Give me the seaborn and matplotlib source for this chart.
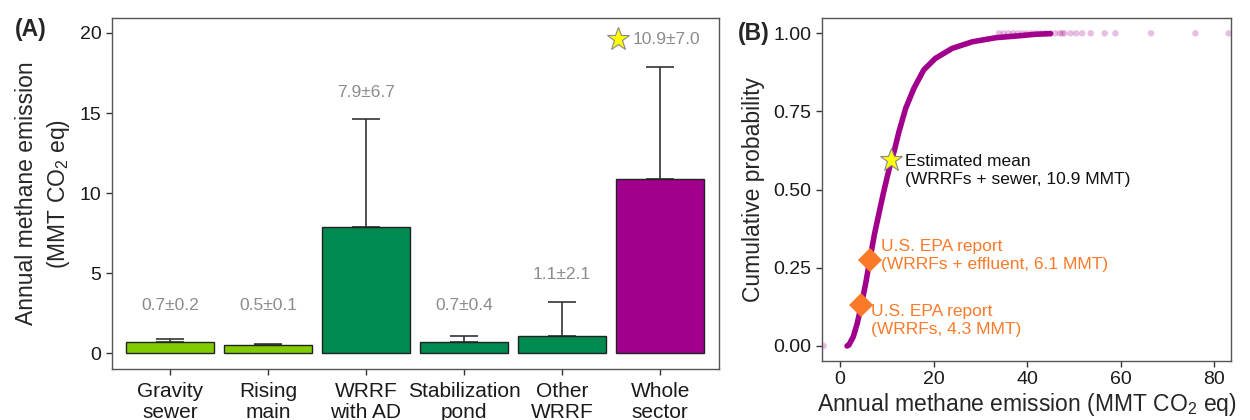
import numpy as np
import pandas as pd
import matplotlib
matplotlib.use("Agg")
import matplotlib.pyplot as plt
import seaborn as sns

# ---- dados do painel A (média ± desvio) ----
categorias = ["Gravity\nsewer", "Rising\nmain", "WRRF\nwith AD",
              "Stabilization\npond", "Other\nWRRF", "Whole\nsector"]
medias = [0.7, 0.5, 7.9, 0.7, 1.1, 10.9]
desvios = [0.2, 0.1, 6.7, 0.4, 2.1, 7.0]
cores_barras = ["#80CC00", "#80CC00", "#008A50", "#008A50", "#008A50", "#A1008C"]

# ---- dados do painel B (curva acumulada) ----
cdf_x = [1.5, 1.9, 2.85, 3.7, 4.56, 5.49, 6.55, 7.4, 8.33, 9.26, 10.1, 10.8,
         11.54, 12.6, 14.04, 15.8, 17.9, 20.4, 24.0, 28.3, 33.3, 38.2, 41.8,
         45.0]
cdf_y = [0.0, 0.003, 0.03, 0.073, 0.131, 0.20, 0.29, 0.36, 0.424, 0.488,
         0.541, 0.584, 0.621, 0.685, 0.760, 0.824, 0.883, 0.92, 0.952, 0.973,
         0.986, 0.992, 0.997, 0.999]
cauda_x = [-3.5, 34, 35, 36, 37, 38, 39, 40, 41, 42, 43, 44, 45, 46, 47,
           47.5, 48, 49.3, 50.5, 51.8, 53.6, 56.6, 58.9, 66.5, 76.0, 83.1]
cauda_y = [0.0] + [1.0] * 25

epa_x = [4.5, 6.4]
epa_y = [0.131, 0.275]
media_x, media_y = 10.9, 0.595

roxo = "#A1008C"
laranja = "#FA7A2A"
cinza_txt = "#8C8C8C"


def main():
    sns.set_theme(style="ticks")
    plt.rcParams["font.family"] = ["Liberation Sans", "DejaVu Sans"]
    plt.rcParams["mathtext.fontset"] = "custom"
    plt.rcParams["mathtext.rm"] = "Liberation Sans"
    plt.rcParams["axes.edgecolor"] = "#555555"
    plt.rcParams["xtick.color"] = "#333333"
    plt.rcParams["ytick.color"] = "#333333"
    plt.rcParams["xtick.labelcolor"] = "#1a1a1a"
    plt.rcParams["ytick.labelcolor"] = "#1a1a1a"

    fig = plt.figure(figsize=(12.5, 4.2), dpi=100)
    ax_a = fig.add_axes([0.0896, 0.1214, 0.4856, 0.8357])
    ax_b = fig.add_axes([0.6576, 0.1405, 0.3272, 0.8166])

    # --- Painel A: barras ---
    df = pd.DataFrame({"cat": categorias, "media": medias, "dp": desvios})
    sns.barplot(data=df, x="cat", y="media", hue="cat", palette=cores_barras,
                saturation=1, legend=False, width=0.9, edgecolor="#222222",
                linewidth=1.0, ax=ax_a, zorder=2)
    pos = np.arange(len(categorias))
    ax_a.errorbar(pos, medias, yerr=[np.zeros(len(desvios)), desvios],
                  fmt="none", ecolor="#333333", elinewidth=1.2, capsize=10.3,
                  capthick=1.2, zorder=1)
    for i, (m, s) in enumerate(zip(medias, desvios)):
        ytxt = max(m + s, 1.3) + 1.7
        rotulo = f"{m:.1f}±{s:.1f}"
        if i == len(medias) - 1:
            ax_a.plot(i - 0.43, ytxt, marker="*", ms=17, color="#FFFF00",
                      mec="#888888", mew=0.8, zorder=3)
            ax_a.text(i - 0.28, ytxt, rotulo, ha="left", va="center",
                      fontsize=12.5, color=cinza_txt)
        else:
            ax_a.text(i, ytxt, rotulo, ha="center", va="center",
                      fontsize=12.5, color=cinza_txt)
    ax_a.set_xlim(-0.59, 5.6)
    ax_a.set_ylim(-0.97, 20.93)
    ax_a.set_yticks([0, 5, 10, 15, 20])
    ax_a.set_xlabel("")
    ax_a.set_ylabel("Annual methane emission\n(MMT CO$_\\mathregular{2}$ eq)",
                    fontsize=16.5, linespacing=1.3, labelpad=6)
    ax_a.tick_params(axis="y", labelsize=14, length=4, width=1)
    ax_a.tick_params(axis="x", labelsize=15, length=4, width=1, pad=5)
    for t in ax_a.get_xticklabels():
        t.set_linespacing(1.15)

    # --- Painel B: curva acumulada ---
    sns.lineplot(x=cdf_x, y=cdf_y, sort=False, color=roxo, linewidth=4.0,
                 solid_capstyle="round", solid_joinstyle="round",
                 ax=ax_b, zorder=2)
    sns.scatterplot(x=cauda_x, y=cauda_y, color=roxo, alpha=0.25, s=22,
                    edgecolor="none", ax=ax_b, zorder=2)
    sns.scatterplot(x=epa_x, y=epa_y, marker="D", s=150, color=laranja,
                    edgecolor="none", ax=ax_b, zorder=3)
    ax_b.plot(media_x, media_y, marker="*", ms=17, color="#FFFF00",
              mec="#888888", mew=0.8, zorder=4)
    ax_b.text(13.8, 0.56, "Estimated mean\n(WRRFs + sewer, 10.9 MMT)",
              ha="left", va="center", fontsize=12.5, color="#111111",
              linespacing=1.25)
    ax_b.text(8.7, 0.288, "U.S. EPA report\n(WRRFs + effluent, 6.1 MMT)",
              ha="left", va="center", fontsize=12.5, color=laranja,
              linespacing=1.25)
    ax_b.text(6.7, 0.08, "U.S. EPA report\n(WRRFs, 4.3 MMT)",
              ha="left", va="center", fontsize=12.5, color=laranja,
              linespacing=1.25)
    ax_b.set_xlim(-3.85, 83.6)
    ax_b.set_ylim(-0.048, 1.049)
    ax_b.set_xticks([0, 20, 40, 60, 80])
    ax_b.set_yticks([0, 0.25, 0.5, 0.75, 1.0])
    ax_b.set_yticklabels(["0.00", "0.25", "0.50", "0.75", "1.00"])
    ax_b.set_xlabel("Annual methane emission (MMT CO$_\\mathregular{2}$ eq)",
                    fontsize=16.5, labelpad=2)
    ax_b.set_ylabel("Cumulative probability", fontsize=16.5, labelpad=6)
    ax_b.tick_params(axis="both", labelsize=14, length=4, width=1)

    for ax in (ax_a, ax_b):
        for sp in ax.spines.values():
            sp.set_visible(True)
            sp.set_linewidth(1.0)

    fig.text(0.0248, 0.929, "(A)", fontsize=16.5, fontweight="bold",
             ha="center", va="center")
    fig.text(0.6032, 0.921, "(B)", fontsize=16.5, fontweight="bold",
             ha="center", va="center")

    fig.savefig("out.png", dpi=100)


if __name__ == "__main__":
    main()
